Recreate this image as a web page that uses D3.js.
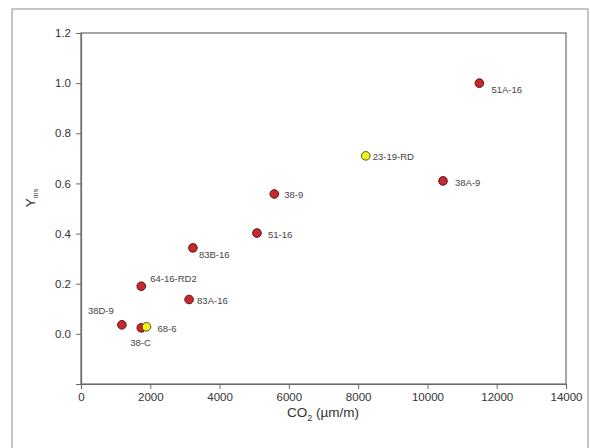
<!DOCTYPE html>
<html><head><meta charset="utf-8">
<script src="https://cdn.jsdelivr.net/npm/d3@7"></script>
<style>body{margin:0;background:#fff}svg{display:block}text{font-family:Arial,"Liberation Sans",sans-serif}</style>
</head><body>
<svg id="c" width="590" height="448"></svg>
<script>
const labels = ["51A-16","23-19-RD","38A-9","38-9","51-16","83B-16","64-16-RD2","83A-16","38D-9","38-C","68-6"];
const co2 = [11500, 8220, 10450, 5580, 5080, 3230, 1740, 3120, 1180, 1740, 1890];
const yms = [1.0, 0.71, 0.61, 0.558, 0.402, 0.343, 0.19, 0.137, 0.036, 0.024, 0.028];
const kind = ["red","yellow","red","red","red","red","red","red","red","red","yellow"];
// label anchor offsets (dx, dy) in px relative to point
const ldx = [12, 7, 12, 10, 11, 6, 9, 8, -34, -11, 11];
const ldy = [10, 4, 5, 4, 5, 10, -4, 4, -11, 18, 5];
const xTicks = [0,2000,4000,6000,8000,10000,12000,14000];
const yTicks = [0.0,0.2,0.4,0.6,0.8,1.0,1.2];

const svg = d3.select("#c");
const L=81,R=566,T=33,B=384;
// outer frame
svg.append("rect").attr("x",12).attr("y",9).attr("width",576).attr("height",460)
  .attr("fill","none").attr("stroke","#a0a0a0").attr("stroke-width",1.2);

const x = d3.scaleLinear().domain([0,14000]).range([L,R]);
const y = d3.scaleLinear().domain([-0.2,1.2]).range([B,T]);

svg.append("rect").attr("x",L).attr("y",T).attr("width",R-L).attr("height",B-T)
  .attr("fill","none").attr("stroke","#6a6a6a").attr("stroke-width",1.2);

const gx = svg.append("g").attr("transform",`translate(0,${B})`)
  .call(d3.axisBottom(x).tickValues(xTicks).tickFormat(d3.format("d")).tickSize(5).tickPadding(4));
const gy = svg.append("g").attr("transform",`translate(${L},0)`)
  .call(d3.axisLeft(y).tickValues(yTicks).tickFormat(d3.format(".1f")).tickSize(5).tickPadding(5));
[gx,gy].forEach(g=>{
  g.select(".domain").attr("stroke","#6a6a6a").attr("stroke-width",1.2);
  g.selectAll(".tick line").attr("stroke","#6a6a6a");
  g.selectAll(".tick text").attr("fill","#333").style("font-size","11.5px").style("font-family","Arial, 'Liberation Sans', sans-serif");
});

const data = labels.map((l,i)=>({l,x:co2[i],y:yms[i],k:kind[i],dx:ldx[i],dy:ldy[i]}));
const order = data.filter(d=>d.k==="red").concat(data.filter(d=>d.k==="yellow"));
svg.append("g").selectAll("circle").data(order).join("circle")
  .attr("cx",d=>x(d.x)).attr("cy",d=>y(d.y)).attr("r",4.3)
  .attr("fill",d=>d.k==="red"?"#c8282e":"#f2f21c")
  .attr("stroke",d=>d.k==="red"?"#5a1010":"#555520").attr("stroke-width",1);

svg.append("g").selectAll("text").data(data).join("text")
  .attr("x",d=>x(d.x)+d.dx).attr("y",d=>y(d.y)+d.dy)
  .attr("fill","#444").style("font-size","9.5px").text(d=>d.l);

// axis titles
const xt = svg.append("text").attr("x",323).attr("y",417).attr("text-anchor","middle")
  .attr("fill","#333").style("font-size","13.5px");
xt.append("tspan").text("CO");
xt.append("tspan").attr("dy",4).style("font-size","9px").text("2");
xt.append("tspan").attr("dy",-4).text(" (µm/m)");

const yt = svg.append("text").attr("transform","translate(35,198) rotate(-90)")
  .attr("text-anchor","middle").attr("fill","#333").style("font-size","13.5px");
yt.append("tspan").text("Y");
yt.append("tspan").attr("dy",3).style("font-size","7px").text("ms");
</script>
</body></html>
